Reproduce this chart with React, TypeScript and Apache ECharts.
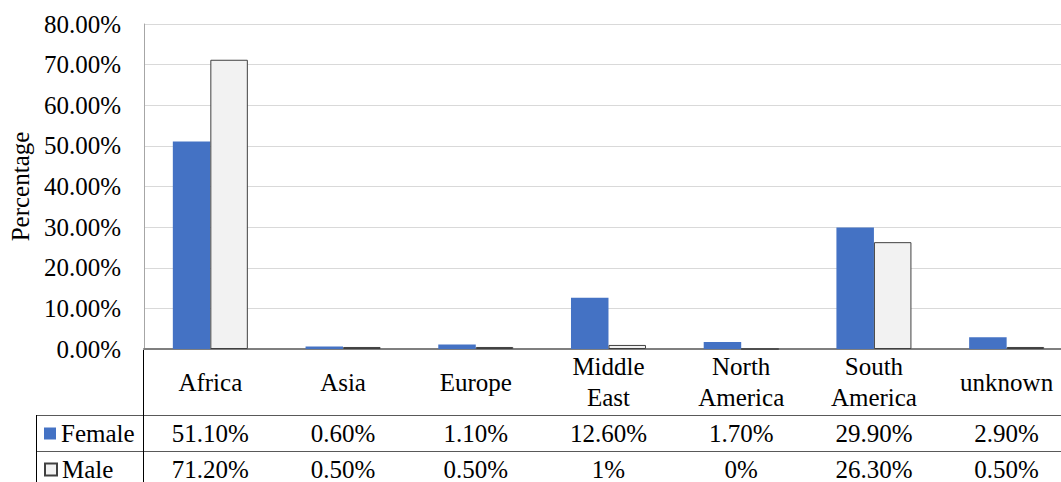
import React, { useEffect, useRef } from "react";
import * as echarts from "echarts";

const categories = ["Africa", "Asia", "Europe", "Middle\nEast", "North\nAmerica", "South\nAmerica", "unknown"];
const female = [51.1, 0.6, 1.1, 12.6, 1.7, 29.9, 2.9];
const male = [71.2, 0.5, 0.5, 1, 0, 26.3, 0.5];
const seriesNames = ["Female", "Male"];

const FONT = "'Liberation Serif', 'Times New Roman', serif";
const fmtVal = (v: number) => (Number.isInteger(v) ? `${v}%` : `${v.toFixed(2)}%`);

export default function App() {
  const ref = useRef<HTMLDivElement>(null);
  useEffect(() => {
    if (!ref.current) return;
    const chart = echarts.init(ref.current, null, { renderer: "svg" });
    const tableAxis = (vals: number[], margin: number) => ({
      type: "category",
      data: categories,
      position: "bottom",
      gridIndex: 0,
      axisLine: { show: false },
      axisTick: { show: false },
      splitLine: { show: false },
      axisLabel: {
        interval: 0,
        margin,
        verticalAlign: "middle",
        fontFamily: FONT,
        fontSize: 25,
        color: "#000",
        formatter: (_: string, idx: number) => fmtVal(vals[idx]),
      },
    });
    const legendItem = (name: string, top: number) => ({
      data: [name],
      orient: "vertical",
      left: 44,
      top,
      padding: 0,
      itemWidth: 12,
      itemHeight: 12,
      icon: "rect",
      textStyle: { fontFamily: FONT, fontSize: 25, color: "#000" },
    });
    chart.setOption({
      animation: false,
      backgroundColor: "#fff",
      textStyle: { fontFamily: FONT, color: "#000" },
      grid: { left: 143, right: 0, top: 24, bottom: 133, containLabel: false },
      legend: [legendItem(seriesNames[0], 421), legendItem(seriesNames[1], 457)],
      xAxis: [
        {
          type: "category",
          data: categories,
          axisLine: { show: true, lineStyle: { color: "#7f7f7f", width: 2 } },
          axisTick: { show: false },
          axisLabel: {
            interval: 0,
            margin: 33,
            verticalAlign: "middle",
            fontFamily: FONT,
            fontSize: 25,
            lineHeight: 31,
            color: "#000",
          },
        },
        tableAxis(female, 84),
        tableAxis(male, 120),
      ],
      yAxis: {
        type: "value",
        min: 0,
        max: 80,
        interval: 10,
        name: "Percentage",
        nameLocation: "middle",
        nameRotate: 90,
        nameGap: 110,
        nameTextStyle: { fontFamily: FONT, fontSize: 25, color: "#000" },
        axisLine: { show: true, lineStyle: { color: "#a6a6a6", width: 1 } },
        axisTick: { show: false },
        splitLine: { lineStyle: { color: "#d9d9d9", width: 1 } },
        axisLabel: {
          margin: 23,
          fontFamily: FONT,
          fontSize: 25,
          color: "#000",
          formatter: (v: number) => `${v.toFixed(2)}%`,
        },
      },
      series: [
        {
          name: seriesNames[0],
          type: "bar",
          data: female,
          barWidth: 37.5,
          barGap: "0%",
          itemStyle: { color: "#4472c4" },
        },
        {
          name: seriesNames[1],
          type: "bar",
          data: male,
          barWidth: 37.5,
          barGap: "0%",
          itemStyle: { color: "#f2f2f2", borderColor: "#404040", borderWidth: 1 },
        },
      ],
      graphic: [
        { type: "line", shape: { x1: 36.5, y1: 415.5, x2: 1073, y2: 415.5 }, style: { stroke: "#595959", lineWidth: 1 } },
        { type: "line", shape: { x1: 36.5, y1: 451.5, x2: 1073, y2: 451.5 }, style: { stroke: "#595959", lineWidth: 1 } },
        { type: "line", shape: { x1: 36.5, y1: 415, x2: 36.5, y2: 482 }, style: { stroke: "#000", lineWidth: 1 } },
        { type: "line", shape: { x1: 143.5, y1: 350, x2: 143.5, y2: 482 }, style: { stroke: "#000", lineWidth: 1 } },
      ],
    });
    return () => chart.dispose();
  }, []);
  return (
    <div style={{ position: "absolute", left: 0, top: 0, width: 1061, height: 482, overflow: "hidden", background: "#fff" }}>
      <div ref={ref} style={{ width: 1073, height: 482 }} />
    </div>
  );
}
